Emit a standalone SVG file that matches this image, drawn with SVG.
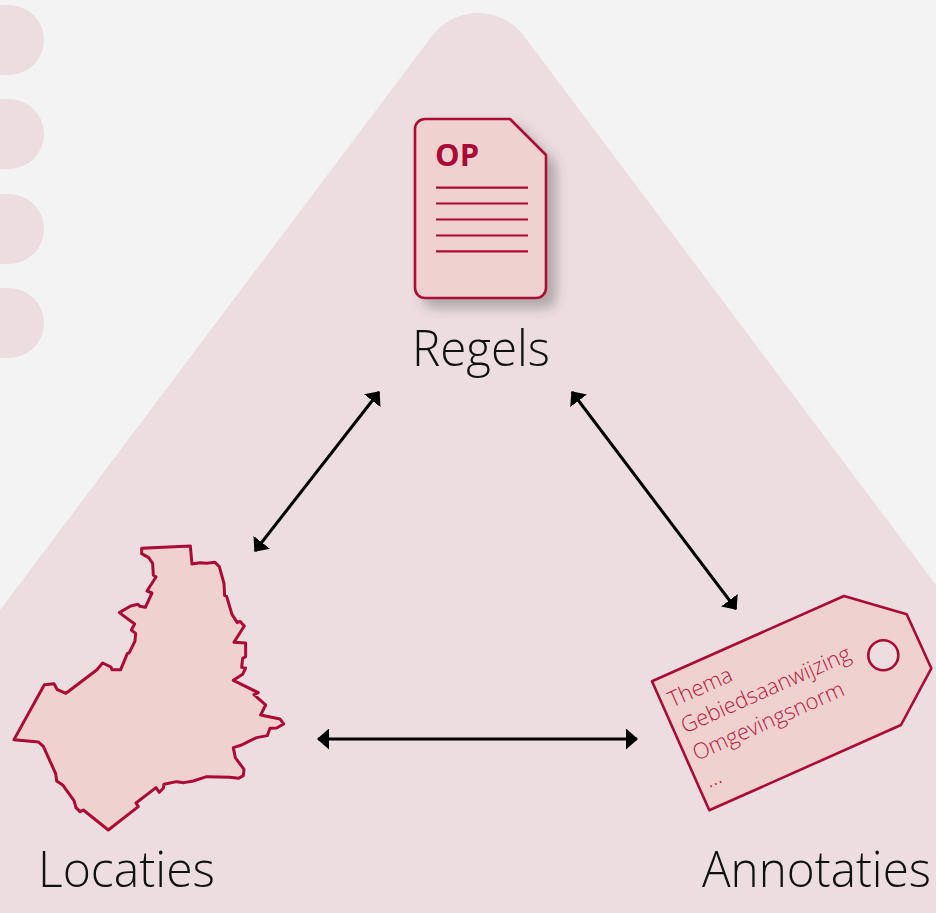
<svg xmlns="http://www.w3.org/2000/svg" width="936" height="913" viewBox="0 0 936 913">
<style>
.pill{fill:#ecdde0}
.shape{fill:#efd2cf;stroke:#ab0a36;stroke-width:2.6;stroke-linejoin:round}
.rule{stroke:#ab0a36;stroke-width:2.2;fill:none}
.label{font-family:"Open Sans",sans-serif;font-weight:300;font-size:49px;fill:#111}
.tagtext{font-family:"Open Sans",sans-serif;font-weight:300;font-size:22px;fill:#b81a43}
.conn{stroke:#000;stroke-width:3;fill:none;marker-start:url(#head);marker-end:url(#head)}
</style>
<defs>
<marker id="head" viewBox="0 0 12 21" refX="11" refY="10.500" markerUnits="userSpaceOnUse" markerWidth="12" markerHeight="21" orient="auto-start-reverse"><path d="M0 0L12 10.500L0 21z" fill="#000"/></marker>
<filter id="shadow" x="-20%" y="-20%" width="150%" height="150%"><feDropShadow dx="9" dy="9" stdDeviation="6" flood-color="#444" flood-opacity=".35"/></filter>
</defs>
<rect id="background" width="936" height="913" fill="#f3f3f3"/>
<path id="triangle" class="pill" d="M0 610L432 36A57.500 57.500 0 0 1 524 36L936 585V913H0z"/>
<rect class="pill" x="-40" y="5" width="84" height="70" rx="35"/>
<rect class="pill" x="-40" y="99" width="84" height="70" rx="35"/>
<rect class="pill" x="-40" y="194" width="84" height="70" rx="35"/>
<rect class="pill" x="-40" y="288" width="84" height="70" rx="35"/>
<g id="connectors">
<path class="conn" d="M379 392L255 551"/>
<path class="conn" d="M572 392L736 609"/>
<path class="conn" d="M318 739H637"/>
</g>
<g id="regels">
<path class="shape" filter="url(#shadow)" d="M425 119H510L546 155V288A10 10 0 0 1 536 298H425A10 10 0 0 1 415 288V129A10 10 0 0 1 425 119z"/>
<text x="435" y="166" font-family="'Open Sans',sans-serif" font-weight="700" font-size="31" fill="#ab0a36">OP</text>
<path class="rule" d="M436 187.700H528M436 203.500H528M436 219.500H528M436 235.500H528M436 251.300H528"/>
<text class="label" x="412" y="366" textLength="138" lengthAdjust="spacingAndGlyphs">Regels</text>
</g>
<g id="locaties">
<polygon class="shape" transform="translate(0 535) scale(.3333)" style="stroke-width:9" points="425,40 571,33 576,87 600,83 620,85 645,82 658,95 672,145 674,182 680,184 696,238 712,263 720,259 733,273 702,322 737,324 737,365 728,370 725,397 737,399 728,418 700,436 775,473 762,479 797,510 782,540 840,552 851,567 830,579 810,580 802,602 770,608 745,620 725,630 700,638 706,668 732,703 730,722 715,730 690,727 620,725 580,738 552,743 530,740 492,748 490,760 478,772 468,758 408,804 415,815 325,885 250,825 240,830 228,818 222,797 188,750 170,738 167,716 130,634 115,621 42,614 133,449 162,446 172,464 198,475 290,405 308,384 333,396 336,404 362,404 382,356 388,353 405,318 407,295 394,285 404,267 358,233 392,213 414,208 420,214 436,217 456,174 441,168 468,126 460,120 458,85 446,68 425,56"/>
<text class="label" x="38" y="887" textLength="177" lengthAdjust="spacingAndGlyphs">Locaties</text>
</g>
<g id="annotaties">
<path class="shape" d="M652 681.300L844 596L906.700 614.300L931.300 668.300L901 725L709.300 810.300z"/>
<circle cx="883.300" cy="655.300" r="15" fill="#ecdde0" stroke="#ab0a36" stroke-width="2.600"/>
<g class="tagtext">
<text transform="translate(672.300 707.700) rotate(-24)">Thema</text>
<text transform="translate(685 733.700) rotate(-24)">Gebiedsaanwijzing</text>
<text transform="translate(696.700 761) rotate(-24)">Omgevingsnorm</text>
<text transform="translate(709 788) rotate(-24)">...</text>
</g>
<text class="label" x="702" y="887" textLength="229" lengthAdjust="spacingAndGlyphs">Annotaties</text>
</g>
</svg>
